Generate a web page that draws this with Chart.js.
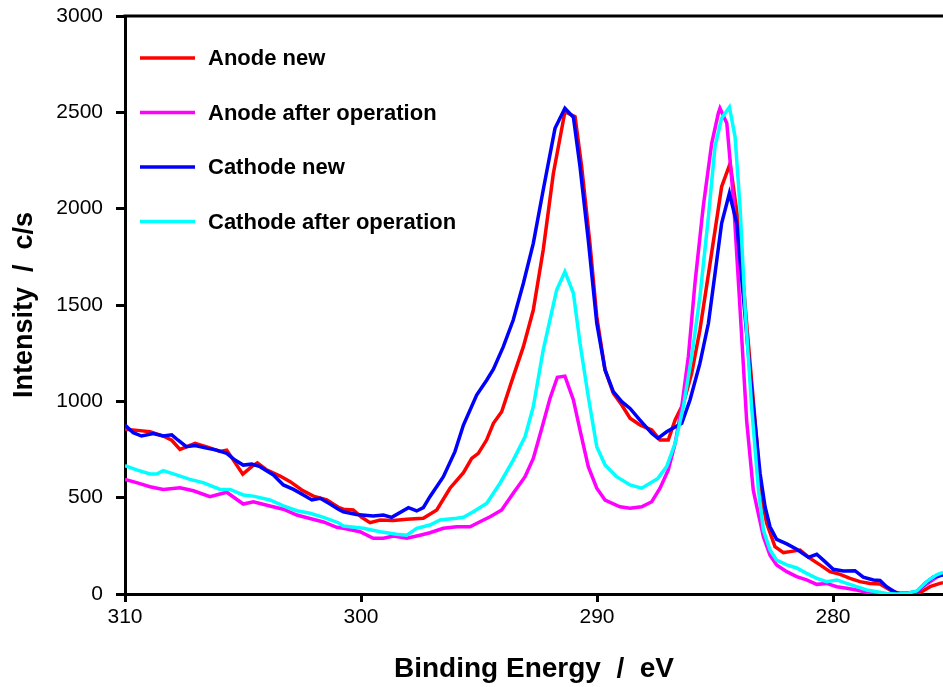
<!DOCTYPE html>
<html>
<head>
<meta charset="utf-8">
<script src="https://cdn.jsdelivr.net/npm/chart.js@4"></script>
<style>
  html, body { margin: 0; padding: 0; background: #fff; }
  #wrap { width: 943px; height: 687px; }
</style>
</head>
<body>
<div id="wrap"><canvas id="xps" width="943" height="687"></canvas></div>
<script>
const seriesNames = ['Anode new', 'Anode after operation', 'Cathode new', 'Cathode after operation'];
const seriesColors = ['#ff0000', '#ff00ff', '#0000ff', '#00ffff'];

// Anode new (red)
const anodeNewEnergy = [310, 309.36, 308.94, 308.38, 308.02, 307.67, 307.03, 306.47, 305.97, 305.69, 305.01, 304.63, 304.39, 304.0, 303.43, 303.0, 302.51, 302.02, 301.45, 300.96, 300.75, 300.33, 299.97, 299.62, 299.19, 298.63, 298.06, 297.36, 296.79, 296.23, 295.66, 295.31, 295.03, 294.68, 294.39, 294.04, 293.55, 293.12, 292.70, 292.28, 291.85, 291.36, 290.93, 290.65, 290.3, 290.01, 289.66, 289.31, 288.95, 288.6, 288.18, 287.68, 287.33, 286.98, 286.69, 286.34, 285.99, 285.64, 285.21, 284.72, 284.36, 284.01, 283.66, 283.23, 283.09, 282.81, 282.46, 282.1, 281.82, 281.4, 280.97, 280.55, 280.13, 279.7, 279.28, 278.86, 278.43, 278.01, 277.59, 277.16, 276.74, 276.31, 275.89, 275.47, 275.34];
const anodeNewCounts = [855, 848, 842, 820, 798, 751, 782, 761, 740, 747, 622, 661, 681, 644, 612, 583, 540, 508, 488, 450, 440, 436, 398, 370, 384, 381, 388, 393, 436, 549, 630, 704, 730, 799, 886, 946, 1128, 1284, 1474, 1785, 2183, 2503, 2477, 2218, 1820, 1439, 1163, 1042, 981, 912, 877, 851, 799, 799, 903, 990, 1145, 1370, 1716, 2114, 2235, 1924, 1405, 799, 540, 367, 246, 215, 220, 228, 185, 151, 116, 102, 81, 64, 55, 52, 21, 0, 0, 7, 38, 55, 58];

// Anode after operation (magenta)
const anodeUsedEnergy = [310, 309.51, 308.94, 308.38, 307.67, 307.1, 306.4, 305.69, 304.99, 304.56, 303.86, 303.29, 302.72, 302.16, 301.59, 301.03, 300.75, 300.04, 299.48, 299.05, 298.63, 298.06, 297.5, 297.08, 296.51, 295.95, 295.38, 294.96, 294.53, 294.04, 293.55, 293.05, 292.7, 292.36, 291.99, 291.68, 291.36, 291.0, 290.72, 290.37, 290.01, 289.66, 289.03, 288.6, 288.11, 287.68, 287.33, 286.98, 286.69, 286.41, 286.13, 285.85, 285.5, 285.14, 284.86, 284.79, 284.5, 284.22, 283.94, 283.66, 283.38, 283.23, 282.95, 282.67, 282.39, 281.96, 281.54, 281.12, 280.69, 280.27, 279.84, 279.42, 279.0, 278.57, 278.15, 277.73, 277.3, 276.88, 276.45, 276.03, 275.61, 275.34];
const anodeUsedCounts = [595, 578, 557, 543, 551, 536, 505, 528, 467, 478, 457, 440, 410, 392, 374, 346, 341, 323, 289, 289, 301, 289, 305, 318, 341, 349, 349, 375, 401, 436, 523, 609, 704, 851, 1016, 1125, 1131, 1007, 851, 661, 549, 488, 453, 445, 453, 479, 549, 644, 782, 972, 1232, 1613, 2010, 2339, 2495, 2521, 2443, 2050, 1480, 900, 540, 453, 297, 202, 151, 116, 90, 73, 50, 55, 38, 30, 21, 9, 0, 0, 0, 3, 12, 52, 87, 107];

// Cathode new (blue)
const cathodeNewEnergy = [310, 309.65, 309.3, 308.8, 308.38, 308.02, 307.75, 307.4, 307.03, 306.55, 306.12, 305.69, 305.34, 304.99, 304.63, 304.28, 303.71, 303.29, 302.86, 302.44, 302.08, 301.73, 301.31, 300.96, 300.75, 300.19, 299.48, 299.05, 298.7, 297.99, 297.64, 297.36, 297.08, 296.51, 296.02, 295.66, 295.1, 294.67, 294.39, 293.97, 293.55, 293.12, 292.70, 292.28, 291.78, 291.36, 291.0, 290.72, 290.37, 290.01, 289.66, 289.31, 288.95, 288.6, 288.18, 287.68, 287.42, 287.05, 286.41, 286.06, 285.64, 285.28, 285.0, 284.72, 284.39, 284.08, 283.8, 283.45, 283.09, 282.88, 282.67, 282.39, 281.96, 281.54, 281.04, 280.69, 280.34, 279.99, 279.56, 279.07, 278.72, 278.29, 278.01, 277.73, 277.3, 276.88, 276.45, 276.1, 275.75, 275.34];
const cathodeNewCounts = [877, 837, 820, 833, 820, 826, 798, 765, 771, 757, 747, 730, 695, 669, 674, 661, 618, 566, 543, 514, 488, 497, 467, 440, 427, 413, 405, 410, 398, 448, 431, 448, 505, 609, 739, 877, 1033, 1111, 1167, 1284, 1422, 1613, 1820, 2097, 2417, 2521, 2474, 2218, 1837, 1405, 1163, 1050, 998, 963, 903, 834, 808, 842, 886, 1007, 1197, 1405, 1664, 1924, 2080, 1924, 1543, 1059, 626, 453, 349, 284, 260, 232, 190, 206, 168, 128, 119, 121, 87, 73, 70, 38, 4, 4, 12, 55, 87, 99];

// Cathode after operation (cyan)
const cathodeUsedEnergy = [310, 309.51, 308.94, 308.66, 308.38, 307.82, 307.25, 306.69, 305.97, 305.55, 304.99, 304.56, 303.86, 303.29, 302.72, 302.16, 301.59, 300.96, 300.75, 299.9, 299.19, 298.49, 298.06, 297.64, 297.08, 296.65, 295.95, 295.66, 295.24, 294.67, 294.11, 293.55, 293.05, 292.7, 292.28, 291.71, 291.36, 291.0, 290.72, 290.37, 290.01, 289.66, 289.17, 288.6, 288.11, 287.42, 287.05, 286.69, 286.34, 285.99, 285.64, 285.28, 285.0, 284.72, 284.39, 284.15, 283.94, 283.73, 283.45, 283.16, 282.95, 282.67, 282.39, 281.96, 281.54, 281.12, 280.69, 280.27, 279.84, 279.42, 279.0, 278.57, 278.15, 277.73, 277.3, 276.88, 276.45, 276.03, 275.61, 275.34];
const cathodeUsedCounts = [666, 644, 623, 623, 640, 618, 595, 578, 543, 543, 514, 508, 488, 457, 432, 419, 398, 370, 353, 341, 323, 310, 305, 341, 358, 384, 393, 398, 427, 471, 575, 695, 816, 972, 1266, 1578, 1673, 1561, 1301, 1024, 765, 670, 609, 566, 549, 600, 661, 782, 972, 1232, 1543, 1958, 2322, 2469, 2527, 2373, 2010, 1491, 972, 540, 332, 228, 176, 151, 135, 107, 81, 64, 73, 55, 38, 21, 12, 3, 0, 3, 16, 64, 99, 112];

const xTicks = [310, 300, 290, 280];
const yTicks = [0, 500, 1000, 1500, 2000, 2500, 3000];

const energies = [anodeNewEnergy, anodeUsedEnergy, cathodeNewEnergy, cathodeUsedEnergy];
const counts = [anodeNewCounts, anodeUsedCounts, cathodeNewCounts, cathodeUsedCounts];

const fontFamily = '"Liberation Sans", Arial, sans-serif';

// legend in the upper left corner of the plot, plus the top frame line
const frameAndLegend = {
  id: 'frameAndLegend',
  afterDraw(chart) {
    const { ctx, chartArea } = chart;
    ctx.save();
    ctx.strokeStyle = '#000';
    ctx.lineWidth = 3;
    ctx.beginPath();
    ctx.moveTo(chartArea.left - 1.5, chartArea.top);
    ctx.lineTo(chartArea.right, chartArea.top);
    ctx.stroke();

    ctx.font = 'bold 22px ' + fontFamily;
    ctx.textBaseline = 'middle';
    ctx.fillStyle = '#000';
    seriesNames.forEach((name, i) => {
      const y = chartArea.top + 42 + i * 54.5;
      ctx.strokeStyle = seriesColors[i];
      ctx.lineWidth = 3.5;
      ctx.beginPath();
      ctx.moveTo(chartArea.left + 15, y);
      ctx.lineTo(chartArea.left + 70, y);
      ctx.stroke();
      ctx.fillText(name, chartArea.left + 83, y + 1);
    });
    ctx.restore();
  }
};

new Chart(document.getElementById('xps').getContext('2d'), {
  type: 'line',
  data: {
    datasets: seriesNames.map((name, i) => ({
      label: name,
      data: energies[i].map((e, j) => ({ x: e, y: counts[i][j] })),
      borderColor: seriesColors[i],
      backgroundColor: seriesColors[i],
      borderWidth: 3.5,
      pointRadius: 0,
      tension: 0,
      fill: false,
      order: seriesNames.length - i
    }))
  },
  options: {
    responsive: false,
    animation: false,
    devicePixelRatio: 1,
    layout: { padding: { top: 16, right: 0, bottom: 0, left: 0 }, autoPadding: false },
    plugins: {
      legend: { display: false },
      tooltip: { enabled: false }
    },
    scales: {
      x: {
        type: 'linear',
        reverse: true,
        min: 275.34,
        max: 310,
        afterBuildTicks: s => { s.ticks = xTicks.map(v => ({ value: v })); },
        afterFit: s => { s.height = 93; s.paddingLeft = 0; s.paddingRight = 0; },
        border: { color: '#000', width: 3 },
        grid: { drawOnChartArea: false, tickLength: 8, tickWidth: 3, tickColor: '#000' },
        ticks: {
          color: '#000', padding: 3, maxRotation: 0,
          font: { family: fontFamily, size: 21 },
          callback: v => String(v)
        },
        title: {
          display: true,
          text: 'Binding Energy  /  eV',
          color: '#000',
          font: { family: fontFamily, size: 28, weight: 'bold' },
          padding: { top: 0, bottom: 1 }
        }
      },
      y: {
        min: 0,
        max: 3000,
        afterBuildTicks: s => { s.ticks = yTicks.map(v => ({ value: v })); },
        afterFit: s => { s.width = 125; s.paddingTop = 0; s.paddingBottom = 0; },
        border: { color: '#000', width: 3 },
        grid: { drawOnChartArea: false, tickLength: 9, tickWidth: 3, tickColor: '#000' },
        ticks: {
          color: '#000', padding: 13,
          font: { family: fontFamily, size: 21 },
          callback: v => String(v)
        },
        title: {
          display: true,
          text: 'Intensity  /  c/s',
          color: '#000',
          font: { family: fontFamily, size: 27, weight: 'bold' },
          padding: { top: 8, bottom: 0 }
        }
      }
    }
  },
  plugins: [frameAndLegend]
});
</script>
</body>
</html>
